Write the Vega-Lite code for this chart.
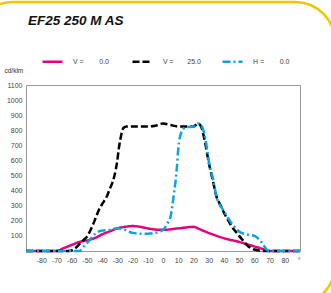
{
  "$schema": "https://vega.github.io/schema/vega-lite/v6.json",
  "width": 274,
  "height": 166,
  "autosize": "none",
  "padding": {"left": 26, "top": 85, "right": 31, "bottom": 42},
  "background": "white",
  "title": {
    "text": "EF25 250 M AS",
    "anchor": "start",
    "frame": "group",
    "font": "Liberation Sans",
    "fontSize": 13.5,
    "fontWeight": "bold",
    "fontStyle": "italic",
    "color": "#111",
    "offset": -27,
    "dx": 2
  },
  "config": {
    "view": {"stroke": "#999", "strokeWidth": 1},
    "font": "Liberation Sans",
    "axis": {
      "gridColor": "#9a9a9a",
      "gridOpacity": 1,
      "gridWidth": 1,
      "domain": false,
      "ticks": false,
      "labelOverlap": false,
      "tickCount": 40,
      "labelFont": "Liberation Sans",
      "labelFontSize": 7,
      "labelColor": "#444"
    }
  },
  "datasets": {
    "curves": [
      {"series": "V = 0.0", "a": -90, "v": 0},
      {"series": "V = 0.0", "a": -70, "v": 0},
      {"series": "V = 0.0", "a": -65, "v": 20},
      {"series": "V = 0.0", "a": -60, "v": 40},
      {"series": "V = 0.0", "a": -55, "v": 60},
      {"series": "V = 0.0", "a": -50, "v": 70},
      {"series": "V = 0.0", "a": -45, "v": 85},
      {"series": "V = 0.0", "a": -40, "v": 110},
      {"series": "V = 0.0", "a": -35, "v": 130},
      {"series": "V = 0.0", "a": -30, "v": 150},
      {"series": "V = 0.0", "a": -25, "v": 160},
      {"series": "V = 0.0", "a": -20, "v": 165},
      {"series": "V = 0.0", "a": -15, "v": 160},
      {"series": "V = 0.0", "a": -10, "v": 150},
      {"series": "V = 0.0", "a": -5, "v": 142},
      {"series": "V = 0.0", "a": 0, "v": 140},
      {"series": "V = 0.0", "a": 10, "v": 150},
      {"series": "V = 0.0", "a": 20, "v": 160},
      {"series": "V = 0.0", "a": 25, "v": 140},
      {"series": "V = 0.0", "a": 30, "v": 120},
      {"series": "V = 0.0", "a": 40, "v": 85},
      {"series": "V = 0.0", "a": 50, "v": 60},
      {"series": "V = 0.0", "a": 60, "v": 30},
      {"series": "V = 0.0", "a": 65, "v": 15},
      {"series": "V = 0.0", "a": 70, "v": 0},
      {"series": "V = 0.0", "a": 90, "v": 0},

      {"series": "V = 25.0", "a": -90, "v": 0},
      {"series": "V = 25.0", "a": -62, "v": 0},
      {"series": "V = 25.0", "a": -58, "v": 15},
      {"series": "V = 25.0", "a": -55, "v": 45},
      {"series": "V = 25.0", "a": -52, "v": 75},
      {"series": "V = 25.0", "a": -50, "v": 95},
      {"series": "V = 25.0", "a": -48, "v": 130},
      {"series": "V = 25.0", "a": -46, "v": 175},
      {"series": "V = 25.0", "a": -44, "v": 225},
      {"series": "V = 25.0", "a": -42, "v": 275},
      {"series": "V = 25.0", "a": -40, "v": 310},
      {"series": "V = 25.0", "a": -37, "v": 360},
      {"series": "V = 25.0", "a": -35, "v": 410},
      {"series": "V = 25.0", "a": -33, "v": 460},
      {"series": "V = 25.0", "a": -31, "v": 540},
      {"series": "V = 25.0", "a": -30, "v": 600},
      {"series": "V = 25.0", "a": -29, "v": 680},
      {"series": "V = 25.0", "a": -28, "v": 740},
      {"series": "V = 25.0", "a": -27, "v": 790},
      {"series": "V = 25.0", "a": -26, "v": 815},
      {"series": "V = 25.0", "a": -24, "v": 825},
      {"series": "V = 25.0", "a": -20, "v": 825},
      {"series": "V = 25.0", "a": -15, "v": 825},
      {"series": "V = 25.0", "a": -10, "v": 825},
      {"series": "V = 25.0", "a": -5, "v": 830},
      {"series": "V = 25.0", "a": 0, "v": 845},
      {"series": "V = 25.0", "a": 5, "v": 835},
      {"series": "V = 25.0", "a": 10, "v": 825},
      {"series": "V = 25.0", "a": 15, "v": 825},
      {"series": "V = 25.0", "a": 20, "v": 825},
      {"series": "V = 25.0", "a": 23, "v": 845},
      {"series": "V = 25.0", "a": 25, "v": 825},
      {"series": "V = 25.0", "a": 27, "v": 750},
      {"series": "V = 25.0", "a": 28, "v": 700},
      {"series": "V = 25.0", "a": 30, "v": 590},
      {"series": "V = 25.0", "a": 33, "v": 455},
      {"series": "V = 25.0", "a": 35, "v": 365},
      {"series": "V = 25.0", "a": 38, "v": 300},
      {"series": "V = 25.0", "a": 40, "v": 255},
      {"series": "V = 25.0", "a": 43, "v": 200},
      {"series": "V = 25.0", "a": 45, "v": 165},
      {"series": "V = 25.0", "a": 48, "v": 125},
      {"series": "V = 25.0", "a": 50, "v": 100},
      {"series": "V = 25.0", "a": 53, "v": 65},
      {"series": "V = 25.0", "a": 55, "v": 40},
      {"series": "V = 25.0", "a": 58, "v": 18},
      {"series": "V = 25.0", "a": 60, "v": 10},
      {"series": "V = 25.0", "a": 63, "v": 3},
      {"series": "V = 25.0", "a": 65, "v": 0},
      {"series": "V = 25.0", "a": 90, "v": 0},

      {"series": "H = 0.0", "a": -90, "v": 0},
      {"series": "H = 0.0", "a": -55, "v": 0},
      {"series": "H = 0.0", "a": -52, "v": 30},
      {"series": "H = 0.0", "a": -50, "v": 50},
      {"series": "H = 0.0", "a": -48, "v": 75},
      {"series": "H = 0.0", "a": -45, "v": 110},
      {"series": "H = 0.0", "a": -42, "v": 130},
      {"series": "H = 0.0", "a": -40, "v": 135},
      {"series": "H = 0.0", "a": -35, "v": 140},
      {"series": "H = 0.0", "a": -30, "v": 150},
      {"series": "H = 0.0", "a": -25, "v": 140},
      {"series": "H = 0.0", "a": -20, "v": 120},
      {"series": "H = 0.0", "a": -15, "v": 115},
      {"series": "H = 0.0", "a": -10, "v": 115},
      {"series": "H = 0.0", "a": -5, "v": 120},
      {"series": "H = 0.0", "a": 0, "v": 140},
      {"series": "H = 0.0", "a": 3, "v": 185},
      {"series": "H = 0.0", "a": 5, "v": 230},
      {"series": "H = 0.0", "a": 7, "v": 365},
      {"series": "H = 0.0", "a": 9, "v": 540},
      {"series": "H = 0.0", "a": 10, "v": 675},
      {"series": "H = 0.0", "a": 12, "v": 785},
      {"series": "H = 0.0", "a": 15, "v": 820},
      {"series": "H = 0.0", "a": 20, "v": 825},
      {"series": "H = 0.0", "a": 23, "v": 845},
      {"series": "H = 0.0", "a": 25, "v": 835},
      {"series": "H = 0.0", "a": 28, "v": 735},
      {"series": "H = 0.0", "a": 30, "v": 600},
      {"series": "H = 0.0", "a": 33, "v": 470},
      {"series": "H = 0.0", "a": 35, "v": 365},
      {"series": "H = 0.0", "a": 40, "v": 265},
      {"series": "H = 0.0", "a": 45, "v": 185},
      {"series": "H = 0.0", "a": 50, "v": 130},
      {"series": "H = 0.0", "a": 55, "v": 110},
      {"series": "H = 0.0", "a": 60, "v": 100},
      {"series": "H = 0.0", "a": 65, "v": 55},
      {"series": "H = 0.0", "a": 68, "v": 10},
      {"series": "H = 0.0", "a": 70, "v": 0},
      {"series": "H = 0.0", "a": 90, "v": 0}
    ]
  },
  "layer": [
    {
      "data": {"values": [{}]},
      "mark": {"type": "rect", "filled": false, "stroke": "#f2c500", "strokeWidth": 2.5, "cornerRadius": 40, "clip": false},
      "encoding": {
        "x": {"datum": -125, "type": "quantitative"},
        "x2": {"datum": 113},
        "y": {"datum": 1650, "type": "quantitative"},
        "y2": {"datum": -358}
      }
    },
    {
      "data": {"name": "curves"},
      "mark": {"type": "line", "strokeWidth": 2.5, "interpolate": "monotone"},
      "encoding": {
        "x": {
          "field": "a",
          "type": "quantitative",
          "scale": {"domain": [-90, 90], "nice": false, "zero": false},
          "axis": {
            "values": [-90, -80, -70, -60, -50, -40, -30, -20, -10, 0, 10, 20, 30, 40, 50, 60, 70, 80, 90],
            "tickCount": 40,
            "labelExpr": "datum.value == 90 ? '°' : datum.value == -90 ? '' : '' + datum.value",
            "labelPadding": 5,
            "title": null
          }
        },
        "y": {
          "field": "v",
          "type": "quantitative",
          "scale": {"domain": [0, 1100], "nice": false},
          "axis": {
            "values": [0, 100, 200, 300, 400, 500, 600, 700, 800, 900, 1000, 1100],
            "tickCount": 40,
            "labelExpr": "datum.value == 0 ? '' : '' + datum.value",
            "labelPadding": 4,
            "title": "cd/klm",
            "titleAngle": 0,
            "titleX": -22,
            "titleY": -15,
            "titleAlign": "left",
            "titleBaseline": "middle",
            "titleFont": "Liberation Sans",
            "titleFontSize": 6.5,
            "titleFontWeight": "normal",
            "titleColor": "#333"
          }
        },
        "color": {
          "field": "series",
          "type": "nominal",
          "scale": {
            "domain": ["V = 0.0", "V = 25.0", "H = 0.0"],
            "range": ["#e5007d", "#000000", "#0aa4e4"]
          },
          "legend": {
            "orient": "none",
            "legendX": 15,
            "legendY": -35,
            "direction": "horizontal",
            "columns": 3,
            "gridAlign": "all",
            "columnPadding": 16,
            "title": null,
            "symbolType": "stroke",
            "symbolSize": 400,
            "symbolStrokeWidth": 2.5,
            "labelFont": "Liberation Sans",
            "labelFontSize": 7,
            "labelColor": "#444",
            "labelOffset": 9,
            "labelExpr": "datum.label == 'V = 25.0' ? 'V =\u00a0\u00a0\u00a0\u00a0\u00a0\u00a0\u00a025.0' : replace(datum.label, ' = ', ' =\u00a0\u00a0\u00a0\u00a0\u00a0\u00a0\u00a0\u00a0')"
          }
        },
        "strokeDash": {
          "field": "series",
          "type": "nominal",
          "scale": {
            "domain": ["V = 0.0", "V = 25.0", "H = 0.0"],
            "range": [[1, 0], [7, 3], [8, 3, 2, 3]]
          },
          "legend": {
            "orient": "none",
            "legendX": 15,
            "legendY": -35,
            "direction": "horizontal",
            "columns": 3,
            "gridAlign": "all",
            "columnPadding": 16,
            "title": null,
            "symbolType": "stroke",
            "symbolSize": 400,
            "symbolStrokeWidth": 2.5,
            "labelFont": "Liberation Sans",
            "labelFontSize": 7,
            "labelColor": "#444",
            "labelOffset": 9,
            "labelExpr": "datum.label == 'V = 25.0' ? 'V =\u00a0\u00a0\u00a0\u00a0\u00a0\u00a0\u00a025.0' : replace(datum.label, ' = ', ' =\u00a0\u00a0\u00a0\u00a0\u00a0\u00a0\u00a0\u00a0')"
          }
        }
      }
    }
  ]
}
